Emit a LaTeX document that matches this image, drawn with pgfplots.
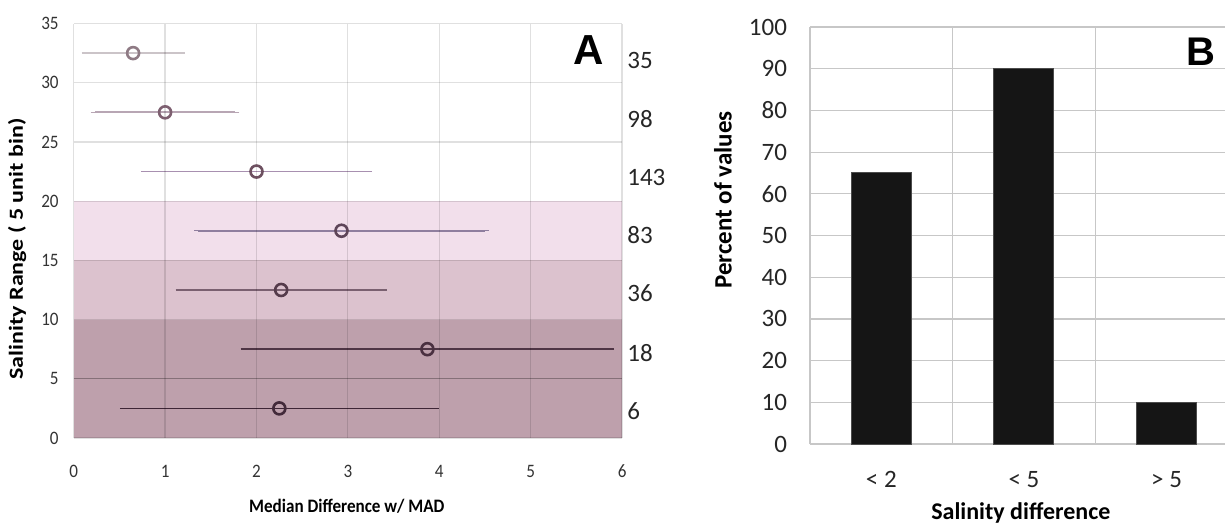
\documentclass[border=0pt]{standalone}
\usepackage{fontspec}
\setmainfont{Carlito}
\newfontfamily\narrowfont[FakeStretch=0.9]{Carlito}
\newfontfamily\widefont[FakeStretch=1.2]{Carlito}
\newfontfamily\arialfont{Liberation Sans}
\usepackage{pgfplots}
\pgfplotsset{compat=1.18}

\definecolor{bandlight}{HTML}{F2DFEB}
\definecolor{bandmid}{HTML}{DCC2CE}
\definecolor{banddark}{HTML}{BEA0AC}
\definecolor{barfill}{HTML}{151515}
% circle / error bar colours, top row (a) to bottom row (g)
\definecolor{ma}{HTML}{8E7A84}\definecolor{ea}{HTML}{CBC4C8}
\definecolor{mb}{HTML}{7D5F70}\definecolor{eb}{HTML}{B8A6B4}
\definecolor{mc}{HTML}{6D5060}\definecolor{ec}{HTML}{A890B0}
\definecolor{md}{HTML}{5E4558}\definecolor{ed}{HTML}{8F7E9E}
\definecolor{me}{HTML}{553B4B}\definecolor{ee}{HTML}{7A6070}
\definecolor{mf}{HTML}{4A3040}\definecolor{ef}{HTML}{4F3545}
\definecolor{mg}{HTML}{432A3A}\definecolor{eg}{HTML}{3E2636}

% one style per row of panel A: circle colour, error bar colour
\pgfplotsset{
  row/.style 2 args={only marks, mark=o,
    mark options={draw=#1, fill=none, line width=1.3pt},
    mark size=3pt,
    error bars/.cd, x dir=both, x explicit,
    error bar style={color=#2, line width=0.9pt},
    error mark options={color=#2, mark size=2pt, line width=0.7pt}},
}

\begin{document}
\begin{tikzpicture}
\useasboundingbox (0,0) rectangle (612.5pt,263.5pt);

% ---------- panel A ----------
\begin{axis}[
    at={(36.85pt,44.5pt)}, anchor=south west,
    width=274.2pt, height=207.25pt, scale only axis,
    xmin=0, xmax=6, ymin=0, ymax=35,
    xtick={0,...,6}, ytick={0,5,...,35},
    axis line style={draw=none},
    major tick length=0,
    grid=major,
    grid style={black, opacity=0.12, line width=0.6pt},
    axis on top, clip=false,
    /pgf/number format/assume math mode=true,
    tick label style={font=\narrowfont\fontsize{9.5}{11}\selectfont, text=black!80},
    xticklabel style={yshift=-10pt},
    yticklabel style={xshift=-4pt},
    xlabel={Median Difference w/ MAD},
    xlabel style={at={(axis description cs:0.498,-0.164)}, anchor=center,
        font=\narrowfont\bfseries\fontsize{9.5}{11}\selectfont},
    ylabel={Salinity Range ( 5 unit bin)},
    ylabel style={at={(axis description cs:-0.103,0.456)}, anchor=center,
        rotate=0, font=\widefont\bfseries\fontsize{10}{12}\selectfont},
]
% shaded salinity bands
\addplot[fill=bandlight, draw=none] coordinates {(0,20) (6,20)} \closedcycle;
\addplot[fill=bandmid, draw=none] coordinates {(0,15) (6,15)} \closedcycle;
\addplot[fill=banddark, draw=none] coordinates {(0,10) (6,10)} \closedcycle;
\addplot[draw=black, draw opacity=0.2, line width=0.7pt] coordinates {(0,5) (6,5)};

% median difference +- MAD for each 5 unit bin
\addplot[row={ma}{ea}] coordinates {(0.65,32.5) +- (0.52,0)};
\addplot[row={mb}{eb}] coordinates {(1.00,27.5) +- (0.77,0)};
\addplot[row={mc}{ec}] coordinates {(2.00,22.5) +- (1.22,0)};
\addplot[row={md}{ed}] coordinates {(2.93,17.5) +- (1.57,0)};
\addplot[row={me}{ee}] coordinates {(2.27,12.5) +- (1.11,0)};
\addplot[row={mf}{ef}] coordinates {(3.87,7.5) +- (2.00,0)};
\addplot[row={mg}{eg}] coordinates {(2.25,2.5) +- (1.70,0)};

% counts per bin
\begin{scope}[every node/.style={anchor=west, text=black!85,
    font=\fontsize{12.5}{14}\selectfont}]
\node at (axis cs:5.98,31.9) {35};
\node at (axis cs:5.98,26.9) {98};
\node at (axis cs:5.98,22.0) {143};
\node at (axis cs:5.98,17.1) {83};
\node at (axis cs:5.98,12.2) {36};
\node at (axis cs:5.98,7.2) {18};
\node at (axis cs:5.98,2.3) {6};
\end{scope}
\node[font=\arialfont\bfseries\fontsize{21}{24}\selectfont]
    at (axis cs:5.63,32.8) {A};
\end{axis}

% ---------- panel B ----------
\begin{axis}[
    at={(405pt,41.5pt)}, anchor=south west,
    width=207.5pt, height=208.5pt, scale only axis,
    ybar, bar width=30pt,
    xmin=-0.5, xmax=2.41, ymin=0, ymax=100,
    xtick={0,1,2}, xticklabels={{< 2},{< 5},{> 5}},
    ytick={0,10,...,100},
    extra x ticks={-0.5,0.5,1.5}, extra x tick labels={,,},
    extra x tick style={grid=major},
    xmajorgrids=false, ymajorgrids=true,
    axis line style={draw=none},
    major tick length=0,
    grid style={black!22, line width=0.6pt},
    clip=false,
    /pgf/number format/assume math mode=true,
    tick label style={font=\fontsize{12.5}{14}\selectfont, text=black!85},
    xticklabel style={yshift=-10pt},
    yticklabel style={xshift=-8pt},
    xlabel={Salinity difference},
    xlabel style={at={(axis description cs:0.508,-0.166)}, anchor=center,
        font=\bfseries\fontsize{12}{14}\selectfont},
    ylabel={Percent of values},
    ylabel style={at={(axis description cs:-0.21,0.585)}, anchor=center,
        rotate=0, font=\bfseries\fontsize{12.5}{14}\selectfont},
]
\addplot[fill=barfill, draw=black!70, line width=0.5pt]
    coordinates {(0,65) (1,90) (2,10)};
\node[font=\arialfont\bfseries\fontsize{20}{22}\selectfont]
    at (axis cs:2.24,94) {B};
\end{axis}
\end{tikzpicture}
\end{document}
